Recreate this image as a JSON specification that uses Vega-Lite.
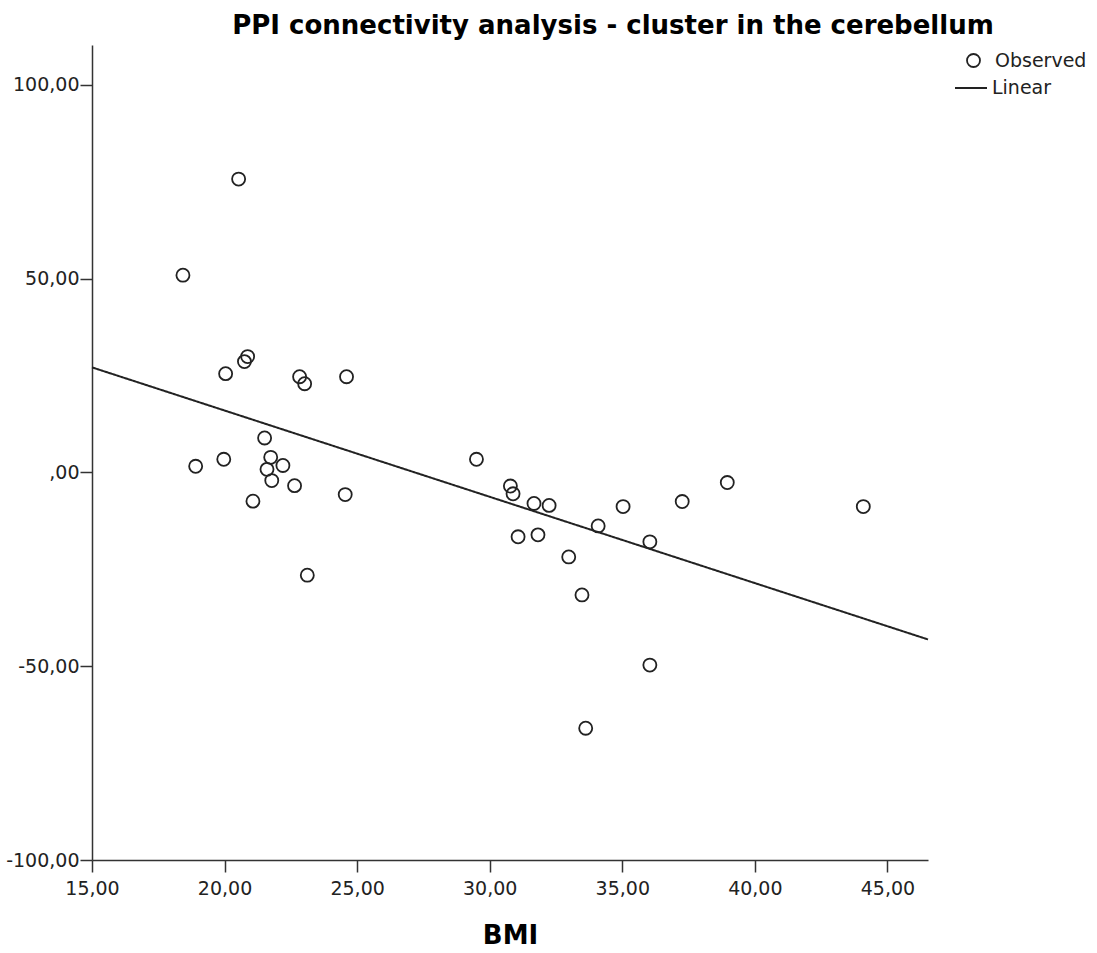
{
  "$schema": "https://vega.github.io/schema/vega-lite/v6.json",
  "width": 836,
  "height": 815,
  "autosize": "none",
  "padding": {"left": 92, "top": 45, "right": 169, "bottom": 93},
  "background": "white",
  "config": {
    "view": {"stroke": null},
    "font": "DejaVu Sans",
    "axis": {
      "grid": false,
      "domainColor": "#333333",
      "domainWidth": 1.5,
      "tickColor": "#333333",
      "tickWidth": 1.5,
      "tickSize": 12,
      "labelFont": "DejaVu Sans",
      "labelFontSize": 19,
      "labelColor": "#222222",
      "labelFlush": false,
      "labelOverlap": false
    }
  },
  "title": {
    "text": "PPI connectivity analysis - cluster in the cerebellum",
    "fontSize": 26,
    "fontWeight": "bold",
    "font": "DejaVu Sans",
    "color": "#000000",
    "anchor": "middle",
    "dx": 103,
    "offset": 6
  },
  "data": {
    "values": [
      {"BMI": 18.43, "PPI": 50.9},
      {"BMI": 20.53, "PPI": 75.7},
      {"BMI": 18.91, "PPI": 1.6},
      {"BMI": 19.97, "PPI": 3.4},
      {"BMI": 20.04, "PPI": 25.5},
      {"BMI": 20.75, "PPI": 28.6},
      {"BMI": 20.87, "PPI": 29.9},
      {"BMI": 21.07, "PPI": -7.4},
      {"BMI": 21.51, "PPI": 8.9},
      {"BMI": 21.74, "PPI": 3.9},
      {"BMI": 21.60, "PPI": 0.8},
      {"BMI": 21.78, "PPI": -2.1},
      {"BMI": 22.20, "PPI": 1.8},
      {"BMI": 22.64, "PPI": -3.4},
      {"BMI": 22.83, "PPI": 24.7},
      {"BMI": 23.02, "PPI": 22.9},
      {"BMI": 23.12, "PPI": -26.5},
      {"BMI": 24.55, "PPI": -5.7},
      {"BMI": 24.60, "PPI": 24.7},
      {"BMI": 29.50, "PPI": 3.4},
      {"BMI": 30.78, "PPI": -3.5},
      {"BMI": 30.88, "PPI": -5.5},
      {"BMI": 31.67, "PPI": -8.0},
      {"BMI": 32.24, "PPI": -8.5},
      {"BMI": 31.07, "PPI": -16.6},
      {"BMI": 31.82, "PPI": -16.1},
      {"BMI": 32.98, "PPI": -21.8},
      {"BMI": 33.48, "PPI": -31.6},
      {"BMI": 34.09, "PPI": -13.8},
      {"BMI": 35.03, "PPI": -8.8},
      {"BMI": 36.04, "PPI": -17.9},
      {"BMI": 36.04, "PPI": -49.7},
      {"BMI": 33.62, "PPI": -66.0},
      {"BMI": 37.26, "PPI": -7.5},
      {"BMI": 38.96, "PPI": -2.6},
      {"BMI": 44.09, "PPI": -8.8}
    ]
  },
  "layer": [
    {
      "mark": {"type": "point", "filled": false, "stroke": "#222222", "strokeWidth": 1.8, "size": 170, "opacity": 1},
      "encoding": {
        "x": {
          "field": "BMI", "type": "quantitative",
          "scale": {"domain": [15, 46.53], "nice": false, "zero": false},
          "axis": {
            "values": [15, 20, 25, 30, 35, 40, 45],
            "labelExpr": "format(datum.value, 'd') + ',00'",
            "labelPadding": 7,
            "title": "BMI",
            "titleFontSize": 26,
            "titleFontWeight": "bold",
            "titleFont": "DejaVu Sans",
            "titleColor": "#000000",
            "titlePadding": 24
          }
        },
        "y": {
          "field": "PPI", "type": "quantitative",
          "scale": {"domain": [-100, 110.3], "nice": false, "zero": false},
          "axis": {
            "values": [-100, -50, 0, 50, 100],
            "labelExpr": "datum.value == 0 ? ',00' : (datum.value < 0 ? '-' : '') + format(abs(datum.value), 'd') + ',00'",
            "labelPadding": 1,
            "title": null
          }
        },
        "shape": {
          "datum": "Observed",
          "scale": {"domain": ["Observed"], "range": ["circle"]},
          "legend": {
            "title": null,
            "orient": "none",
            "legendX": 872,
            "legendY": 6,
            "labelFontSize": 19,
            "labelFont": "DejaVu Sans",
            "labelColor": "#222222",
            "symbolSize": 169,
            "symbolStrokeColor": "#222222",
            "symbolStrokeWidth": 1.8,
            "symbolFillColor": "transparent",
            "labelOffset": 12
          }
        }
      }
    },
    {
      "transform": [{"regression": "PPI", "on": "BMI", "extent": [15, 46.53]}],
      "mark": {"type": "line", "color": "#222222", "strokeWidth": 2},
      "encoding": {
        "x": {"field": "BMI", "type": "quantitative"},
        "y": {"field": "PPI", "type": "quantitative"},
        "strokeDash": {
          "datum": "Linear",
          "scale": {"domain": ["Linear"], "range": [[1, 0]]},
          "legend": {
            "title": null,
            "orient": "none",
            "legendX": 862,
            "legendY": 26,
            "labelFontSize": 19,
            "labelFont": "DejaVu Sans",
            "labelColor": "#222222",
            "symbolSize": 1024,
            "symbolStrokeColor": "#222222",
            "symbolStrokeWidth": 2,
            "labelOffset": 4
          }
        }
      }
    }
  ]
}
